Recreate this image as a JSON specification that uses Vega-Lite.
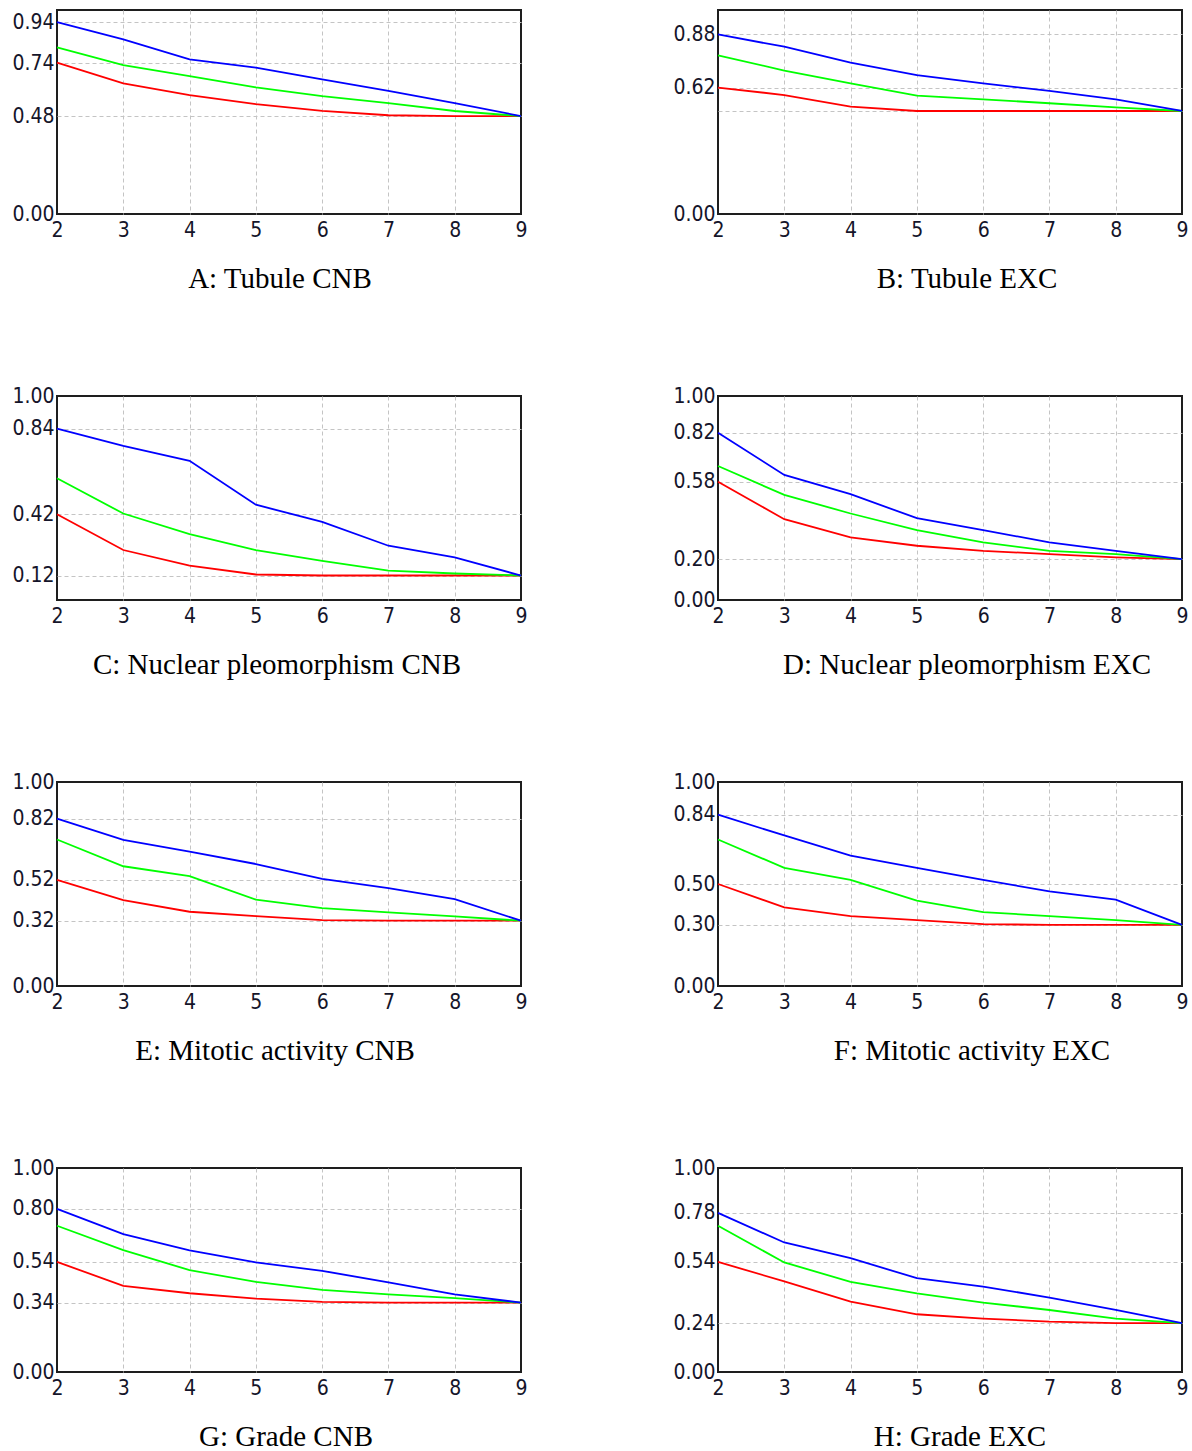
{
  "$schema": "https://vega.github.io/schema/vega-lite/v6.json",
  "background": "white",
  "padding": {"left": 10, "top": 9, "right": 5, "bottom": 5},
  "bounds": "flush",
  "columns": 2,
  "spacing": {"row": 182, "column": 197},
  "config": {
    "view": {"stroke": "#1e1e1e", "strokeWidth": 2},
    "axis": {"domain": false, "ticks": false, "grid": true, "gridDash": [4, 3], "gridWidth": 1, "labelFont": "DejaVu Sans Condensed", "labelFontSize": 21, "labelColor": "#15152a", "labelOverlap": false, "labelFlush": false, "title": null},
    "axisX": {"labelPadding": 5, "gridColor": {"condition": {"test": "datum.value == 2 || datum.value == 9", "value": "transparent"}, "value": "#c4c4c4"}},
    "axisY": {"labelPadding": 3, "gridColor": {"condition": {"test": "datum.value == 0 || datum.value == 1", "value": "transparent"}, "value": "#c4c4c4"}},
    "title": {"orient": "bottom", "font": "Liberation Serif", "fontSize": 29, "fontWeight": "normal", "color": "#000000", "offset": 25, "anchor": "middle"},
    "line": {"strokeWidth": 1.8}
  },
  "data": {"values": [
    {"p":"A","s":"r","k":2,"v":0.742},{"p":"A","s":"r","k":3,"v":0.64},{"p":"A","s":"r","k":4,"v":0.583},{"p":"A","s":"r","k":5,"v":0.539},{"p":"A","s":"r","k":6,"v":0.506},{"p":"A","s":"r","k":7,"v":0.484},{"p":"A","s":"r","k":8,"v":0.48},{"p":"A","s":"r","k":9,"v":0.48},
    {"p":"A","s":"g","k":2,"v":0.817},{"p":"A","s":"g","k":3,"v":0.73},{"p":"A","s":"g","k":4,"v":0.676},{"p":"A","s":"g","k":5,"v":0.621},{"p":"A","s":"g","k":6,"v":0.578},{"p":"A","s":"g","k":7,"v":0.543},{"p":"A","s":"g","k":8,"v":0.505},{"p":"A","s":"g","k":9,"v":0.48},
    {"p":"A","s":"b","k":2,"v":0.94},{"p":"A","s":"b","k":3,"v":0.856},{"p":"A","s":"b","k":4,"v":0.758},{"p":"A","s":"b","k":5,"v":0.717},{"p":"A","s":"b","k":6,"v":0.66},{"p":"A","s":"b","k":7,"v":0.603},{"p":"A","s":"b","k":8,"v":0.543},{"p":"A","s":"b","k":9,"v":0.48},
    {"p":"B","s":"r","k":2,"v":0.62},{"p":"B","s":"r","k":3,"v":0.583},{"p":"B","s":"r","k":4,"v":0.526},{"p":"B","s":"r","k":5,"v":0.505},{"p":"B","s":"r","k":6,"v":0.505},{"p":"B","s":"r","k":7,"v":0.505},{"p":"B","s":"r","k":8,"v":0.505},{"p":"B","s":"r","k":9,"v":0.505},
    {"p":"B","s":"g","k":2,"v":0.778},{"p":"B","s":"g","k":3,"v":0.703},{"p":"B","s":"g","k":4,"v":0.64},{"p":"B","s":"g","k":5,"v":0.58},{"p":"B","s":"g","k":6,"v":0.562},{"p":"B","s":"g","k":7,"v":0.543},{"p":"B","s":"g","k":8,"v":0.523},{"p":"B","s":"g","k":9,"v":0.505},
    {"p":"B","s":"b","k":2,"v":0.88},{"p":"B","s":"b","k":3,"v":0.82},{"p":"B","s":"b","k":4,"v":0.742},{"p":"B","s":"b","k":5,"v":0.681},{"p":"B","s":"b","k":6,"v":0.64},{"p":"B","s":"b","k":7,"v":0.604},{"p":"B","s":"b","k":8,"v":0.562},{"p":"B","s":"b","k":9,"v":0.505},
    {"p":"C","s":"r","k":2,"v":0.42},{"p":"C","s":"r","k":3,"v":0.245},{"p":"C","s":"r","k":4,"v":0.168},{"p":"C","s":"r","k":5,"v":0.125},{"p":"C","s":"r","k":6,"v":0.12},{"p":"C","s":"r","k":7,"v":0.12},{"p":"C","s":"r","k":8,"v":0.12},{"p":"C","s":"r","k":9,"v":0.12},
    {"p":"C","s":"g","k":2,"v":0.597},{"p":"C","s":"g","k":3,"v":0.424},{"p":"C","s":"g","k":4,"v":0.323},{"p":"C","s":"g","k":5,"v":0.245},{"p":"C","s":"g","k":6,"v":0.192},{"p":"C","s":"g","k":7,"v":0.144},{"p":"C","s":"g","k":8,"v":0.13},{"p":"C","s":"g","k":9,"v":0.12},
    {"p":"C","s":"b","k":2,"v":0.84},{"p":"C","s":"b","k":3,"v":0.755},{"p":"C","s":"b","k":4,"v":0.682},{"p":"C","s":"b","k":5,"v":0.467},{"p":"C","s":"b","k":6,"v":0.383},{"p":"C","s":"b","k":7,"v":0.266},{"p":"C","s":"b","k":8,"v":0.209},{"p":"C","s":"b","k":9,"v":0.12},
    {"p":"D","s":"r","k":2,"v":0.58},{"p":"D","s":"r","k":3,"v":0.396},{"p":"D","s":"r","k":4,"v":0.307},{"p":"D","s":"r","k":5,"v":0.266},{"p":"D","s":"r","k":6,"v":0.241},{"p":"D","s":"r","k":7,"v":0.225},{"p":"D","s":"r","k":8,"v":0.209},{"p":"D","s":"r","k":9,"v":0.2},
    {"p":"D","s":"g","k":2,"v":0.657},{"p":"D","s":"g","k":3,"v":0.515},{"p":"D","s":"g","k":4,"v":0.424},{"p":"D","s":"g","k":5,"v":0.343},{"p":"D","s":"g","k":6,"v":0.282},{"p":"D","s":"g","k":7,"v":0.241},{"p":"D","s":"g","k":8,"v":0.225},{"p":"D","s":"g","k":9,"v":0.2},
    {"p":"D","s":"b","k":2,"v":0.82},{"p":"D","s":"b","k":3,"v":0.613},{"p":"D","s":"b","k":4,"v":0.519},{"p":"D","s":"b","k":5,"v":0.401},{"p":"D","s":"b","k":6,"v":0.343},{"p":"D","s":"b","k":7,"v":0.282},{"p":"D","s":"b","k":8,"v":0.241},{"p":"D","s":"b","k":9,"v":0.2},
    {"p":"E","s":"r","k":2,"v":0.52},{"p":"E","s":"r","k":3,"v":0.421},{"p":"E","s":"r","k":4,"v":0.364},{"p":"E","s":"r","k":5,"v":0.343},{"p":"E","s":"r","k":6,"v":0.323},{"p":"E","s":"r","k":7,"v":0.32},{"p":"E","s":"r","k":8,"v":0.32},{"p":"E","s":"r","k":9,"v":0.32},
    {"p":"E","s":"g","k":2,"v":0.718},{"p":"E","s":"g","k":3,"v":0.587},{"p":"E","s":"g","k":4,"v":0.539},{"p":"E","s":"g","k":5,"v":0.423},{"p":"E","s":"g","k":6,"v":0.382},{"p":"E","s":"g","k":7,"v":0.361},{"p":"E","s":"g","k":8,"v":0.341},{"p":"E","s":"g","k":9,"v":0.32},
    {"p":"E","s":"b","k":2,"v":0.82},{"p":"E","s":"b","k":3,"v":0.716},{"p":"E","s":"b","k":4,"v":0.659},{"p":"E","s":"b","k":5,"v":0.598},{"p":"E","s":"b","k":6,"v":0.525},{"p":"E","s":"b","k":7,"v":0.48},{"p":"E","s":"b","k":8,"v":0.426},{"p":"E","s":"b","k":9,"v":0.32},
    {"p":"F","s":"r","k":2,"v":0.5},{"p":"F","s":"r","k":3,"v":0.385},{"p":"F","s":"r","k":4,"v":0.343},{"p":"F","s":"r","k":5,"v":0.323},{"p":"F","s":"r","k":6,"v":0.303},{"p":"F","s":"r","k":7,"v":0.3},{"p":"F","s":"r","k":8,"v":0.3},{"p":"F","s":"r","k":9,"v":0.3},
    {"p":"F","s":"g","k":2,"v":0.718},{"p":"F","s":"g","k":3,"v":0.579},{"p":"F","s":"g","k":4,"v":0.52},{"p":"F","s":"g","k":5,"v":0.418},{"p":"F","s":"g","k":6,"v":0.362},{"p":"F","s":"g","k":7,"v":0.343},{"p":"F","s":"g","k":8,"v":0.323},{"p":"F","s":"g","k":9,"v":0.3},
    {"p":"F","s":"b","k":2,"v":0.84},{"p":"F","s":"b","k":3,"v":0.738},{"p":"F","s":"b","k":4,"v":0.639},{"p":"F","s":"b","k":5,"v":0.579},{"p":"F","s":"b","k":6,"v":0.52},{"p":"F","s":"b","k":7,"v":0.464},{"p":"F","s":"b","k":8,"v":0.423},{"p":"F","s":"b","k":9,"v":0.3},
    {"p":"G","s":"r","k":2,"v":0.54},{"p":"G","s":"r","k":3,"v":0.422},{"p":"G","s":"r","k":4,"v":0.386},{"p":"G","s":"r","k":5,"v":0.36},{"p":"G","s":"r","k":6,"v":0.344},{"p":"G","s":"r","k":7,"v":0.34},{"p":"G","s":"r","k":8,"v":0.34},{"p":"G","s":"r","k":9,"v":0.34},
    {"p":"G","s":"g","k":2,"v":0.717},{"p":"G","s":"g","k":3,"v":0.597},{"p":"G","s":"g","k":4,"v":0.499},{"p":"G","s":"g","k":5,"v":0.442},{"p":"G","s":"g","k":6,"v":0.403},{"p":"G","s":"g","k":7,"v":0.381},{"p":"G","s":"g","k":8,"v":0.362},{"p":"G","s":"g","k":9,"v":0.34},
    {"p":"G","s":"b","k":2,"v":0.8},{"p":"G","s":"b","k":3,"v":0.676},{"p":"G","s":"b","k":4,"v":0.596},{"p":"G","s":"b","k":5,"v":0.537},{"p":"G","s":"b","k":6,"v":0.496},{"p":"G","s":"b","k":7,"v":0.439},{"p":"G","s":"b","k":8,"v":0.381},{"p":"G","s":"b","k":9,"v":0.34},
    {"p":"H","s":"r","k":2,"v":0.54},{"p":"H","s":"r","k":3,"v":0.444},{"p":"H","s":"r","k":4,"v":0.345},{"p":"H","s":"r","k":5,"v":0.283},{"p":"H","s":"r","k":6,"v":0.262},{"p":"H","s":"r","k":7,"v":0.247},{"p":"H","s":"r","k":8,"v":0.24},{"p":"H","s":"r","k":9,"v":0.24},
    {"p":"H","s":"g","k":2,"v":0.717},{"p":"H","s":"g","k":3,"v":0.537},{"p":"H","s":"g","k":4,"v":0.442},{"p":"H","s":"g","k":5,"v":0.385},{"p":"H","s":"g","k":6,"v":0.34},{"p":"H","s":"g","k":7,"v":0.304},{"p":"H","s":"g","k":8,"v":0.262},{"p":"H","s":"g","k":9,"v":0.24},
    {"p":"H","s":"b","k":2,"v":0.78},{"p":"H","s":"b","k":3,"v":0.635},{"p":"H","s":"b","k":4,"v":0.558},{"p":"H","s":"b","k":5,"v":0.46},{"p":"H","s":"b","k":6,"v":0.419},{"p":"H","s":"b","k":7,"v":0.365},{"p":"H","s":"b","k":8,"v":0.304},{"p":"H","s":"b","k":9,"v":0.24}
  ]},
  "concat": [
    {"width": 464, "height": 204, "title": {"text": "A: Tubule CNB", "dx": -9},
     "transform": [{"filter": "datum.p == 'A'"}], "mark": "line",
     "encoding": {
       "x": {"field": "k", "type": "quantitative", "scale": {"domain": [2, 9], "nice": false}, "axis": {"values": [2,3,4,5,6,7,8,9]}},
       "y": {"field": "v", "type": "quantitative", "scale": {"domain": [0, 1], "nice": false}, "axis": {"values": [0, 0.48, 0.74, 0.94], "format": ".2f"}},
       "color": {"field": "s", "type": "nominal", "scale": {"domain": ["r","g","b"], "range": ["#ff0000","#00ff00","#0000ff"]}, "legend": null}}},
    {"width": 464, "height": 204, "title": {"text": "B: Tubule EXC", "dx": 17},
     "transform": [{"filter": "datum.p == 'B'"}], "mark": "line",
     "encoding": {
       "x": {"field": "k", "type": "quantitative", "scale": {"domain": [2, 9], "nice": false}, "axis": {"values": [2,3,4,5,6,7,8,9]}},
       "y": {"field": "v", "type": "quantitative", "scale": {"domain": [0, 1], "nice": false}, "axis": {"values": [0, 0.505, 0.62, 0.88], "labelExpr": "datum.value == 0.505 ? '' : format(datum.value, '.2f')"}},
       "color": {"field": "s", "type": "nominal", "scale": {"domain": ["r","g","b"], "range": ["#ff0000","#00ff00","#0000ff"]}, "legend": null}}},
    {"width": 464, "height": 204, "title": {"text": "C: Nuclear pleomorphism CNB", "dx": -12},
     "transform": [{"filter": "datum.p == 'C'"}], "mark": "line",
     "encoding": {
       "x": {"field": "k", "type": "quantitative", "scale": {"domain": [2, 9], "nice": false}, "axis": {"values": [2,3,4,5,6,7,8,9]}},
       "y": {"field": "v", "type": "quantitative", "scale": {"domain": [0, 1], "nice": false}, "axis": {"values": [0.12, 0.42, 0.84, 1], "format": ".2f"}},
       "color": {"field": "s", "type": "nominal", "scale": {"domain": ["r","g","b"], "range": ["#ff0000","#00ff00","#0000ff"]}, "legend": null}}},
    {"width": 464, "height": 204, "title": {"text": "D: Nuclear pleomorphism EXC", "dx": 17},
     "transform": [{"filter": "datum.p == 'D'"}], "mark": "line",
     "encoding": {
       "x": {"field": "k", "type": "quantitative", "scale": {"domain": [2, 9], "nice": false}, "axis": {"values": [2,3,4,5,6,7,8,9]}},
       "y": {"field": "v", "type": "quantitative", "scale": {"domain": [0, 1], "nice": false}, "axis": {"values": [0, 0.2, 0.58, 0.82, 1], "format": ".2f"}},
       "color": {"field": "s", "type": "nominal", "scale": {"domain": ["r","g","b"], "range": ["#ff0000","#00ff00","#0000ff"]}, "legend": null}}},
    {"width": 464, "height": 204, "title": {"text": "E: Mitotic activity CNB", "dx": -14},
     "transform": [{"filter": "datum.p == 'E'"}], "mark": "line",
     "encoding": {
       "x": {"field": "k", "type": "quantitative", "scale": {"domain": [2, 9], "nice": false}, "axis": {"values": [2,3,4,5,6,7,8,9]}},
       "y": {"field": "v", "type": "quantitative", "scale": {"domain": [0, 1], "nice": false}, "axis": {"values": [0, 0.32, 0.52, 0.82, 1], "format": ".2f"}},
       "color": {"field": "s", "type": "nominal", "scale": {"domain": ["r","g","b"], "range": ["#ff0000","#00ff00","#0000ff"]}, "legend": null}}},
    {"width": 464, "height": 204, "title": {"text": "F: Mitotic activity EXC", "dx": 22},
     "transform": [{"filter": "datum.p == 'F'"}], "mark": "line",
     "encoding": {
       "x": {"field": "k", "type": "quantitative", "scale": {"domain": [2, 9], "nice": false}, "axis": {"values": [2,3,4,5,6,7,8,9]}},
       "y": {"field": "v", "type": "quantitative", "scale": {"domain": [0, 1], "nice": false}, "axis": {"values": [0, 0.3, 0.5, 0.84, 1], "format": ".2f"}},
       "color": {"field": "s", "type": "nominal", "scale": {"domain": ["r","g","b"], "range": ["#ff0000","#00ff00","#0000ff"]}, "legend": null}}},
    {"width": 464, "height": 204, "title": {"text": "G: Grade CNB", "dx": -3},
     "transform": [{"filter": "datum.p == 'G'"}], "mark": "line",
     "encoding": {
       "x": {"field": "k", "type": "quantitative", "scale": {"domain": [2, 9], "nice": false}, "axis": {"values": [2,3,4,5,6,7,8,9]}},
       "y": {"field": "v", "type": "quantitative", "scale": {"domain": [0, 1], "nice": false}, "axis": {"values": [0, 0.34, 0.54, 0.8, 1], "format": ".2f"}},
       "color": {"field": "s", "type": "nominal", "scale": {"domain": ["r","g","b"], "range": ["#ff0000","#00ff00","#0000ff"]}, "legend": null}}},
    {"width": 464, "height": 204, "title": {"text": "H: Grade EXC", "dx": 10},
     "transform": [{"filter": "datum.p == 'H'"}], "mark": "line",
     "encoding": {
       "x": {"field": "k", "type": "quantitative", "scale": {"domain": [2, 9], "nice": false}, "axis": {"values": [2,3,4,5,6,7,8,9]}},
       "y": {"field": "v", "type": "quantitative", "scale": {"domain": [0, 1], "nice": false}, "axis": {"values": [0, 0.24, 0.54, 0.78, 1], "format": ".2f"}},
       "color": {"field": "s", "type": "nominal", "scale": {"domain": ["r","g","b"], "range": ["#ff0000","#00ff00","#0000ff"]}, "legend": null}}}
  ]
}
